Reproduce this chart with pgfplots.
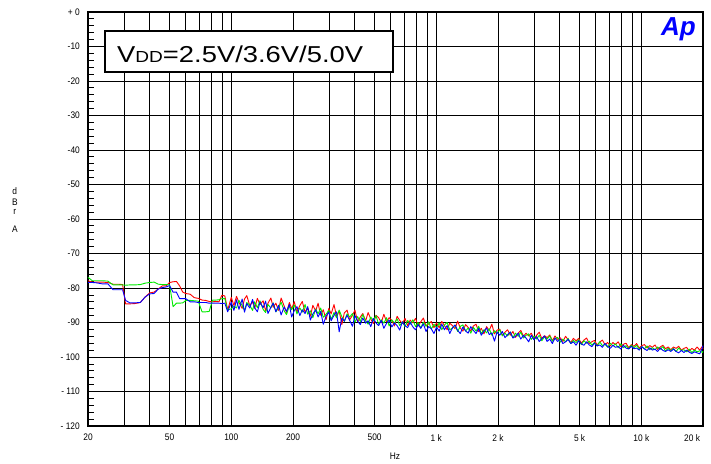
\documentclass[border=0pt]{standalone}
\usepackage{fontspec}
\setmainfont{Liberation Sans}
\newfontfamily\ticfont[FakeStretch=0.88]{Liberation Sans}
\newfontfamily\legfont[FakeStretch=1.19]{Liberation Sans}
\usepackage{pgfplots}
\pgfplotsset{compat=1.18}
\usepackage{pgfplotstable}
\definecolor{apred}{RGB}{255,0,0}
\definecolor{apgreen}{RGB}{0,235,0}
\definecolor{apblue}{RGB}{0,0,255}

\pgfplotstableread{
f r g b
20 -77.9 -76.9 -78.4
21 -78.3 -77.9 -78.4
22 -78.3 -77.9 -78.5
23.5 -78.3 -77.9 -78.8
25 -78.4 -78.0 -78.8
26.5 -78.9 -79.1 -80.5
28 -78.9 -79.1 -80.5
29.5 -79.0 -79.1 -80.5
30.5 -84.6 -79.2 -83.6
32 -84.6 -79.1 -84.3
34 -84.5 -79.1 -84.3
36 -84.2 -79.0 -84.2
38 -82.6 -78.6 -82.6
40 -81.4 -78.4 -81.7
42 -81.2 -78.3 -81.6
44 -80.3 -78.9 -80.3
46 -79.4 -79.0 -79.9
48 -79.4 -79.0 -79.7
50 -78.4 -79.1 -79.3
52 -78.2 -85.4 -81.2
54 -78.1 -84.4 -81.2
56 -79.4 -84.4 -83.1
58 -81.2 -84.3 -83.1
60 -81.6 -83.6 -83.1
63 -81.8 -83.6 -84.0
66 -82.8 -83.7 -84.0
69 -83.0 -83.8 -84.2
72 -83.5 -86.9 -84.2
75 -83.6 -86.9 -84.2
78 -83.9 -86.8 -84.4
81 -84.0 -83.5 -84.4
84 -83.9 -83.5 -84.4
87 -84.0 -83.4 -84.4
90 -82.1 -83.1 -84.5
93 -82.3 -83.1 -84.4
96 -86.4 -86.4 -86.9
100 -82.7 -86.0 -84.1
103 -85.1 -85.3 -86.5
106 -82.4 -85.8 -83.4
109 -84.2 -83.6 -86.2
113 -85.9 -85.1 -83.2
116 -83.2 -86.5 -87.0
119 -82.2 -84.2 -84.5
123 -85.1 -85.0 -85.8
127 -84.0 -86.5 -83.3
130 -85.9 -84.0 -85.7
134 -83.0 -85.7 -86.9
138 -84.8 -83.7 -84.1
143 -83.7 -86.2 -85.7
147 -86.6 -87.1 -83.8
151 -84.4 -84.8 -87.4
156 -82.9 -85.8 -85.6
160 -85.6 -84.3 -84.4
165 -84.4 -86.9 -86.9
170 -86.5 -85.7 -85.0
175 -82.9 -84.1 -87.8
181 -85.2 -86.6 -85.5
186 -87.1 -87.7 -86.8
192 -84.2 -85.1 -84.8
197 -86.0 -86.3 -88.4
203 -84.0 -84.9 -86.5
209 -87.0 -87.5 -85.4
216 -85.1 -85.8 -88.0
222 -83.9 -87.0 -86.3
229 -87.0 -84.8 -87.4
236 -85.9 -87.6 -85.4
243 -88.2 -86.6 -89.3
250 -85.0 -88.6 -87.5
258 -86.7 -86.1 -86.3
265 -84.4 -87.5 -88.4
273 -87.9 -85.8 -86.8
281 -86.3 -88.5 -90.5
290 -89.2 -87.6 -88.2
299 -85.9 -86.5 -87.0
307 -87.5 -89.1 -89.5
317 -84.8 -87.1 -87.9
326 -88.2 -88.6 -86.9
336 -86.6 -86.4 -92.7
346 -90.6 -88.3 -88.7
356 -87.2 -89.7 -89.6
367 -86.4 -87.5 -87.9
378 -89.2 -88.4 -89.4
390 -87.9 -87.4 -91.1
401 -86.4 -89.9 -88.0
413 -89.8 -88.3 -89.6
426 -88.4 -89.7 -90.6
438 -87.4 -87.7 -88.7
452 -89.6 -89.5 -90.2
465 -87.1 -90.5 -89.5
479 -89.0 -88.4 -91.2
493 -90.3 -89.5 -88.8
508 -87.9 -88.0 -90.1
523 -88.6 -90.5 -90.9
539 -90.0 -89.2 -89.4
555 -87.6 -90.2 -91.7
572 -89.8 -88.6 -90.2
589 -88.6 -91.0 -89.3
607 -89.4 -89.2 -91.3
625 -91.0 -90.2 -90.1
644 -88.2 -88.9 -90.9
663 -89.4 -90.9 -92.2
683 -90.3 -89.8 -89.8
704 -88.8 -91.2 -90.9
725 -90.9 -89.4 -91.5
746 -89.3 -90.5 -89.9
769 -90.1 -89.2 -91.3
792 -88.8 -91.2 -92.1
815 -91.0 -90.0 -90.6
840 -89.8 -91.6 -91.7
865 -88.7 -89.9 -90.4
891 -91.0 -91.1 -92.6
918 -90.4 -89.8 -91.2
945 -89.7 -91.9 -91.8
974 -91.5 -90.5 -93.2
1003 -90.1 -91.5 -91.3
1033 -91.5 -90.1 -92.5
1064 -89.7 -92.1 -90.5
1096 -90.9 -90.7 -92.1
1129 -92.1 -90.0 -90.9
1163 -90.2 -92.1 -93.2
1198 -90.9 -91.6 -91.6
1234 -91.8 -90.8 -90.7
1271 -89.6 -92.6 -92.3
1309 -91.6 -91.1 -93.2
1348 -92.5 -90.7 -91.3
1389 -90.6 -92.5 -92.4
1430 -91.4 -91.6 -93.1
1473 -92.5 -93.1 -91.2
1517 -91.0 -91.4 -92.3
1563 -90.5 -92.5 -93.2
1610 -92.6 -91.1 -91.7
1658 -91.7 -93.2 -93.7
1708 -93.3 -92.1 -92.5
1759 -91.2 -93.0 -91.6
1812 -92.3 -91.8 -93.5
1866 -90.5 -93.7 -93.0
1922 -93.3 -92.4 -95.4
1980 -92.2 -93.2 -92.7
2039 -91.9 -92.1 -93.7
2100 -93.7 -93.9 -92.6
2163 -92.8 -93.1 -94.4
2228 -92.1 -93.9 -93.5
2295 -93.7 -92.7 -92.8
2364 -92.6 -94.4 -94.5
2435 -94.3 -93.1 -94.0
2508 -93.1 -94.0 -93.1
2583 -92.3 -92.8 -94.8
2661 -94.0 -94.5 -93.7
2740 -93.1 -93.7 -94.5
2823 -93.9 -93.3 -95.6
2907 -93.1 -94.9 -93.7
2995 -94.8 -93.9 -95.0
3084 -93.7 -94.8 -94.1
3177 -92.8 -93.7 -95.5
3272 -94.7 -95.3 -94.7
3370 -93.8 -94.1 -93.9
3471 -94.4 -94.8 -95.5
3576 -93.6 -93.9 -94.8
3683 -95.3 -95.4 -96.1
3793 -93.9 -94.7 -94.5
3907 -94.9 -94.3 -95.5
4024 -94.4 -95.7 -94.8
4145 -95.5 -94.8 -96.1
4270 -94.0 -95.6 -95.6
4398 -95.0 -94.6 -94.9
4529 -95.8 -96.1 -96.1
4665 -94.6 -95.2 -95.6
4805 -95.3 -95.8 -96.6
4949 -94.6 -95.0 -95.3
5098 -96.0 -96.4 -96.2
5251 -95.1 -95.3 -96.6
5408 -94.5 -96.0 -95.6
5570 -96.1 -95.4 -96.5
5738 -95.6 -96.6 -97.0
5910 -95.2 -95.8 -96.0
6087 -96.5 -96.8 -96.8
6269 -95.7 -95.6 -96.5
6458 -95.1 -96.7 -97.2
6651 -96.4 -96.3 -96.1
6851 -95.8 -97.2 -96.9
7056 -96.8 -96.0 -97.5
7268 -95.8 -96.8 -96.6
7486 -96.4 -96.2 -97.2
7711 -95.6 -97.3 -96.9
7942 -97.0 -96.2 -97.7
8180 -96.3 -97.3 -96.6
8426 -96.0 -96.7 -97.4
8678 -97.3 -97.6 -97.7
8939 -96.4 -96.6 -96.9
9207 -96.9 -97.3 -97.6
9483 -96.1 -96.6 -97.4
9768 -97.4 -97.7 -98.0
10061 -96.7 -97.0 -97.0
10363 -96.4 -97.6 -97.7
10674 -97.4 -96.8 -98.1
10994 -96.7 -97.9 -97.3
11324 -97.2 -97.3 -98.0
11663 -96.5 -97.9 -97.7
12013 -97.8 -97.1 -98.4
12374 -97.1 -97.8 -97.4
12745 -96.6 -97.0 -98.1
13127 -97.6 -98.3 -98.4
13521 -97.1 -97.5 -97.9
13927 -97.9 -98.1 -98.4
14345 -97.1 -97.5 -97.7
14775 -97.5 -98.4 -98.4
15218 -96.9 -97.4 -98.8
15675 -98.0 -98.1 -98.1
16145 -97.5 -97.9 -98.7
16630 -97.2 -98.5 -98.0
17128 -98.3 -97.7 -98.6
17642 -97.5 -98.7 -99.0
18172 -98.0 -98.0 -98.5
18717 -97.1 -98.5 -98.8
19278 -98.0 -98.2 -99.1
19857 -96.9 -98.7 -97.3
20000 -97.7 -98.3 -96.7
}\data

\begin{document}
\begin{tikzpicture}
\path (-88pt,-37pt) rectangle (623pt,426pt);
\begin{axis}[
  at={(0pt,0pt)}, anchor=south west,
  scale only axis, width=615pt, height=414pt,
  xmode=log, xmin=20, xmax=20000, ymin=-120, ymax=0,
  xtick={20,50,100,200,500,1000,2000,5000,10000,20000},
  xticklabels={20,50,100,200,500,1 k,2 k,5 k,10 k,\llap{20 k\hspace{3pt}}},
  minor xtick={30,40,60,70,80,90,300,400,600,700,800,900,3000,4000,6000,7000,8000,9000},
  ytick={-120,-110,-100,-90,-80,-70,-60,-50,-40,-30,-20,-10,0},
  yticklabels={- 120,- 110,- 100,-90,-80,-70,-60,-50,-40,-30,-20,-10,+ 0},
  minor y tick num=4,
  xmajorgrids, xminorgrids, ymajorgrids,
  major grid style={black, line width=0.8pt},
  minor grid style={black, line width=0.8pt},
  tick align=inside, tick pos=left,
  major tick length=0pt,
  minor tick length=6pt,
  minor tick style={black, line width=0.8pt},
  axis line style={line width=1.5pt},
  tick label style={font=\ticfont\fontsize{9.5}{10}\selectfont, inner sep=0pt},
  yticklabel style={xshift=-8pt},
  xticklabel style={yshift=-8pt},
  clip=false,
]
\addplot[apred, line width=0.9pt, line join=round] table[x=f,y=r]{\data};
\addplot[apgreen, line width=0.9pt, line join=round] table[x=f,y=g]{\data};
\addplot[apblue, line width=0.9pt, line join=round] table[x=f,y=b]{\data};

\draw[line width=1.2pt, fill=white] (axis description cs:0.0276,0.855) rectangle (axis description cs:0.496,0.954);
\node[anchor=base west, inner sep=0pt] at (axis description cs:0.0472,0.8785)
  {\legfont\fontsize{23}{24}\selectfont V{\fontsize{16}{17}\selectfont DD}=2.5V/3.6V/5.0V};
\node[anchor=base east, inner sep=0pt, text=apblue, font=\bfseries\itshape\fontsize{26}{27}\selectfont]
  at (axis description cs:0.9886,0.9444) {Ap};

\node[font=\ticfont\fontsize{9.5}{10}\selectfont] at (axis description cs:-0.119,0.568) {d};
\node[font=\ticfont\fontsize{9.5}{10}\selectfont] at (axis description cs:-0.119,0.541) {B};
\node[font=\ticfont\fontsize{9.5}{10}\selectfont] at (axis description cs:-0.119,0.517) {r};
\node[font=\ticfont\fontsize{9.5}{10}\selectfont] at (axis description cs:-0.119,0.475) {A};
\node[font=\ticfont\fontsize{9.5}{10}\selectfont] at (axis description cs:0.499,-0.0725) {Hz};
\end{axis}
\end{tikzpicture}
\end{document}
